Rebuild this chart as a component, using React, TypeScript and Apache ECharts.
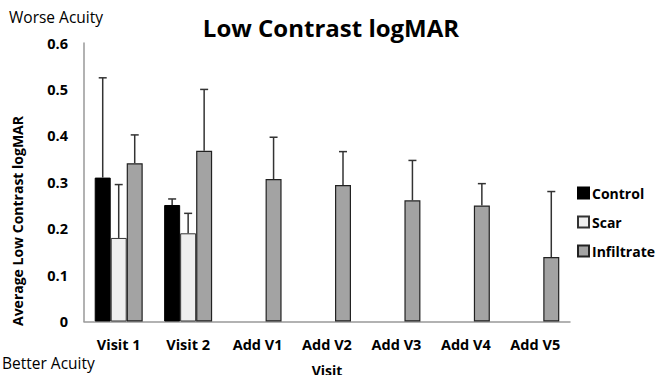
import React, { useEffect, useRef } from "react";
import * as echarts from "echarts";

const categories = ["Visit 1", "Visit 2", "Add V1", "Add V2", "Add V3", "Add V4", "Add V5"];
const controlValues = [0.31, 0.251, null, null, null, null, null];
const controlUpper = [0.525, 0.264, null, null, null, null, null];
const scarValues = [0.18, 0.19, null, null, null, null, null];
const scarUpper = [0.295, 0.233, null, null, null, null, null];
const infiltrateValues = [0.341, 0.368, 0.307, 0.294, 0.261, 0.25, 0.139];
const infiltrateUpper = [0.402, 0.5, 0.397, 0.366, 0.347, 0.297, 0.28];
const yTicks = [0, 0.1, 0.2, 0.3, 0.4, 0.5, 0.6];

const FONT = "Open Sans";
const BAR_W = 16;

function errorSeries(name: string, vals: (number | null)[], ups: (number | null)[], offset: number) {
  const data: any[] = [];
  vals.forEach((v, i) => {
    if (v != null && ups[i] != null) data.push([i, v, ups[i]]);
  });
  return {
    type: "custom",
    name: name + "-err",
    z: 5,
    silent: true,
    encode: { x: 0, y: [1, 2] },
    data,
    renderItem: (params: any, api: any) => {
      const base = api.coord([api.value(0), api.value(1)]);
      const top = api.coord([api.value(0), api.value(2)]);
      const cx = base[0] + offset;
      const style = { stroke: "#333", lineWidth: 1.5 };
      return {
        type: "group",
        children: [
          { type: "line", shape: { x1: cx, y1: base[1], x2: cx, y2: top[1] }, style },
          { type: "line", shape: { x1: cx - 4, y1: top[1], x2: cx + 4, y2: top[1] }, style },
        ],
      };
    },
  };
}

export default function App() {
  const ref = useRef<HTMLDivElement>(null);
  useEffect(() => {
    if (!ref.current) return;
    const chart = echarts.init(ref.current, null, { renderer: "svg" });
    const barCommon = {
      type: "bar",
      barWidth: BAR_W,
      barGap: "0%",
      z: 2,
    };
    chart.setOption({
      animation: false,
      backgroundColor: "#fff",
      textStyle: { fontFamily: FONT },
      title: {
        text: "Low Contrast logMAR",
        left: 326,
        textAlign: "center",
        top: 10,
        textStyle: { fontFamily: FONT, fontSize: 24, fontWeight: "bold", color: "#000" },
      },
      legend: {
        orient: "vertical",
        left: 572,
        top: 181,
        itemWidth: 11,
        itemHeight: 11,
        itemGap: 15,
        data: ["Control", "Scar", "Infiltrate"],
        textStyle: { fontFamily: FONT, fontSize: 14, fontWeight: "bold", color: "#000", padding: [0, 0, 0, -2] },
        icon: "rect",
      },
      grid: { left: 84, right: 87, top: 43, bottom: 53.5, containLabel: false, outerBoundsMode: "none" },
      xAxis: {
        type: "category",
        data: categories,
        name: "Visit",
        nameLocation: "middle",
        nameGap: 42,
        nameTextStyle: { fontFamily: FONT, fontSize: 14, fontWeight: "bold", color: "#000" },
        axisLine: { lineStyle: { color: "#999", width: 1.5 } },
        axisTick: { show: false },
        axisLabel: { margin: 15, fontFamily: FONT, fontSize: 14.5, fontWeight: "bold", color: "#000" },
      },
      yAxis: {
        type: "value",
        min: 0,
        max: 0.6,
        interval: 0.1,
        axisLine: { show: true, lineStyle: { color: "#999", width: 1.5 } },
        axisTick: { show: false },
        splitLine: { show: false },
        axisLabel: {
          margin: 16,
          fontFamily: FONT,
          fontSize: 14.5,
          fontWeight: "bold",
          color: "#000",
          formatter: (v: number) => {
            const t = yTicks.find((x) => Math.abs(x - v) < 1e-6);
            return t === 0 ? "0" : (t ?? v).toFixed(1);
          },
        },
      },
      graphic: [
        {
          type: "text",
          left: 9,
          top: 9,
          style: { text: "Worse Acuity", fontFamily: FONT, fontSize: 15.5, fill: "#000" },
        },
        {
          type: "text",
          left: 2,
          top: 355,
          style: { text: "Better Acuity", fontFamily: FONT, fontSize: 15.5, fill: "#000" },
        },
        {
          type: "text",
          x: 17,
          y: 221,
          rotation: Math.PI / 2,
          style: {
            text: "Average Low Contrast logMAR",
            fontFamily: FONT,
            fontSize: 14,
            fontWeight: "bold",
            fill: "#000",
            align: "center",
            verticalAlign: "middle",
          },
        },
      ],
      series: [
        {
          ...barCommon,
          name: "Control",
          data: controlValues,
          itemStyle: { color: "#000", borderColor: "#000", borderWidth: 1 },
        },
        {
          ...barCommon,
          name: "Scar",
          data: scarValues,
          itemStyle: { color: "#efefef", borderColor: "#333", borderWidth: 1 },
        },
        {
          ...barCommon,
          name: "Infiltrate",
          data: infiltrateValues,
          itemStyle: { color: "#a3a3a3", borderColor: "#222", borderWidth: 1.2 },
        },
        errorSeries("Control", controlValues, controlUpper, -BAR_W),
        errorSeries("Scar", scarValues, scarUpper, 0),
        errorSeries("Infiltrate", infiltrateValues, infiltrateUpper, BAR_W),
      ],
    });
    return () => chart.dispose();
  }, []);
  return (
    <div
      ref={ref}
      style={{ position: "fixed", left: 0, top: 0, width: 657, height: 375 }}
    />
  );
}
